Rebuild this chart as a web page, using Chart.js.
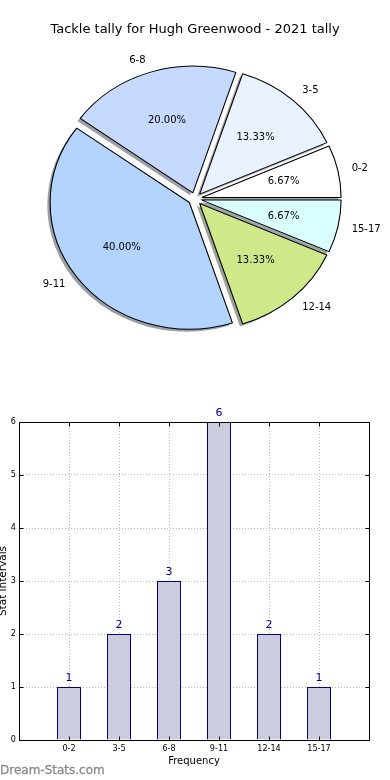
<!DOCTYPE html>
<html>
<head>
<meta charset="utf-8">
<script src="https://cdn.jsdelivr.net/npm/chart.js@4.4.0/dist/chart.umd.min.js"></script>
<style>
body{margin:0;background:#fff;width:390px;height:780px;position:relative;overflow:hidden;font-family:'DejaVu Sans',sans-serif}
#pizza{position:absolute;left:0;top:0}
#barras{position:absolute;left:0;top:400px}
#marca{position:absolute;left:0;top:762px;font-size:12px;line-height:16px;color:#8a8a8a;font-weight:500;-webkit-text-stroke:0.3px #8a8a8a}
</style>
</head>
<body>
<canvas id="pizza" width="390" height="360"></canvas>
<canvas id="barras" width="390" height="380"></canvas>
<div id="marca">Dream-Stats.com</div>
<script>
let titulo='Tackle tally for Hugh Greenwood - 2021 tally'
let faixas=['0-2','3-5','6-8','9-11','12-14','15-17']
let contagens=[1,2,3,6,2,1]
let coresPizza=['#ffffff','#eaf2ff','#c6d9ff','#b3d4ff','#cfe88a','#d9ffff']
let ticksY=[0,1,2,3,4,5,6]

let RAIO=126.6
let EXPLODE=0.05
let ESTICA=1.1
let SOMBRA=0.02
let FONTE_TICK='"DejaVu Sans Condensed", "DejaVu Sans"'

// matplotlib vai anti-horario a partir do leste, chart.js vai horario
let faixasPizza=faixas.slice().reverse()
let valoresPizza=contagens.slice().reverse()
let coresInvertidas=coresPizza.slice().reverse()
let total=contagens.reduce((a,b)=>a+b,0)

function corSombra(hex){
let r=parseInt(hex.slice(1,3),16)
let g=parseInt(hex.slice(3,5),16)
let b=parseInt(hex.slice(5,7),16)
return `rgba(${Math.round(r*.3)},${Math.round(g*.3)},${Math.round(b*.3)},0.5)`
}

let pluginPizza={
id:'pizzaElipse',
beforeDatasetsDraw(chart){
let ctx=chart.ctx
let arcos=chart.getDatasetMeta(0).data
// explode feito a mao pra nao mexer no raio de cada fatia
arcos.forEach(arco=>{
if(arco._explodido)return
arco._explodido=true
let desenhar=arco.draw.bind(arco)
arco.draw=function(c){
let meio=(this.startAngle+this.endAngle)/2
let d=EXPLODE*this.outerRadius
c.save()
c.translate(Math.cos(meio)*d,Math.sin(meio)*d)
desenhar(c)
c.restore()
}
})
let cx=arcos[0].x
let cy=arcos[0].y
ctx.save()
ctx.translate(cx,cy)
ctx.scale(ESTICA,1)
ctx.translate(-cx,-cy)
arcos.forEach((arco,i)=>{
let p=arco.getProps(['x','y','startAngle','endAngle','outerRadius'])
let meio=(p.startAngle+p.endAngle)/2
let d=EXPLODE*p.outerRadius
let ox=p.x+Math.cos(meio)*d-SOMBRA*p.outerRadius
let oy=p.y+Math.sin(meio)*d+SOMBRA*p.outerRadius
ctx.beginPath()
ctx.moveTo(ox,oy)
ctx.arc(ox,oy,p.outerRadius,p.startAngle,p.endAngle)
ctx.closePath()
ctx.fillStyle=corSombra(coresInvertidas[i])
ctx.fill()
})
},
afterDatasetsDraw(chart){
let ctx=chart.ctx
ctx.restore()
let arcos=chart.getDatasetMeta(0).data
ctx.save()
ctx.font='10px "DejaVu Sans"'
ctx.fillStyle='#000'
ctx.textBaseline='middle'
arcos.forEach((arco,i)=>{
let p=arco.getProps(['x','y','startAngle','endAngle','outerRadius'])
let meio=(p.startAngle+p.endAngle)/2
let r=p.outerRadius
let d=EXPLODE*r
let c=Math.cos(meio)
let s=Math.sin(meio)
ctx.textAlign=c>0?'left':'right'
ctx.fillText(faixasPizza[i],p.x+ESTICA*(1.1*r+d)*c,p.y+(1.1*r+d)*s)
ctx.textAlign='center'
let pct=(valoresPizza[i]/total*100).toFixed(2)+'%'
ctx.fillText(pct,p.x+ESTICA*(0.6*r+d)*c,p.y+(0.6*r+d)*s)
})
ctx.restore()
}
}

new Chart(document.getElementById('pizza'),{
type:'pie',
data:{
labels:faixasPizza,
datasets:[{
data:valoresPizza,
backgroundColor:coresInvertidas,
borderColor:'#000',
borderWidth:1
}]
},
options:{
responsive:false,
animation:false,
events:[],
rotation:90,
radius:RAIO,
plugins:{
legend:{display:false},
tooltip:{enabled:false},
title:{
display:true,
text:titulo,
color:'#000',
font:{family:'DejaVu Sans',size:13,weight:'normal',lineHeight:1.2},
padding:{top:22,bottom:0}
}
}
},
plugins:[pluginPizza]
})

let pluginMoldura={
id:'moldura',
afterDatasetsDraw(chart){
let ctx=chart.ctx
let a=chart.chartArea
let sx=chart.scales.x
let sy=chart.scales.y
let esq=Math.round(a.left)+0.5
let dir=Math.round(a.right)+0.5
let topo=Math.round(a.top)+0.5
let base=Math.round(a.bottom)+0.5
ctx.save()
ctx.strokeStyle='#000'
ctx.lineWidth=1
ctx.beginPath()
faixas.forEach((f,i)=>{
let x=Math.round(sx.getPixelForValue(i))+0.5
ctx.moveTo(x,base);ctx.lineTo(x,base-4)
ctx.moveTo(x,topo);ctx.lineTo(x,topo+4)
})
ticksY.forEach(v=>{
let y=Math.round(sy.getPixelForValue(v))+0.5
ctx.moveTo(esq,y);ctx.lineTo(esq+4,y)
ctx.moveTo(dir,y);ctx.lineTo(dir-4,y)
})
ctx.stroke()
ctx.strokeRect(esq,topo,dir-esq,base-topo)
// valores em cima das barras
ctx.fillStyle='#00008b'
ctx.font='11px "DejaVu Sans"'
ctx.textAlign='center'
ctx.textBaseline='middle'
chart.getDatasetMeta(0).data.forEach((barra,i)=>{
ctx.fillText(String(contagens[i]),barra.x,barra.y-9)
})
ctx.restore()
}
}

new Chart(document.getElementById('barras'),{
type:'bar',
data:{
datasets:[{
data:faixas.map((f,i)=>({x:i,y:contagens[i]})),
backgroundColor:'#ccccdf',
borderColor:'#000080',
borderWidth:1,
categoryPercentage:0.48,
barPercentage:1
}]
},
options:{
responsive:false,
animation:false,
events:[],
layout:{padding:{top:22,right:21,left:0,bottom:0}},
plugins:{
legend:{display:false},
tooltip:{enabled:false}
},
scales:{
x:{
type:'linear',
min:-1,
max:6,
offset:false,
afterFit(s){s.height=40},
ticks:{
stepSize:1,
autoSkip:false,
maxRotation:0,
padding:3,
color:'#000',
font:{family:FONTE_TICK,size:9},
callback:v=>faixas[v]||''
},
grid:{color:'#b8b8b8',drawTicks:false,offset:false},
border:{color:'#000',dash:[1,2]},
title:{
display:true,
text:'Frequency',
color:'#000',
font:{family:'DejaVu Sans',size:10,lineHeight:1.2},
padding:{top:0,bottom:13}
}
},
y:{
min:0,
max:6,
afterFit(s){s.width=19},
ticks:{
stepSize:1,
padding:3,
color:'#000',
font:{family:FONTE_TICK,size:9}
},
grid:{color:'#b8b8b8',drawTicks:false},
border:{color:'#000',dash:[1,2]},
title:{
display:true,
text:'Stat intervals',
color:'#000',
font:{family:'DejaVu Sans',size:10.5,lineHeight:0.55},
padding:{top:0,bottom:0}
}
}
}
},
plugins:[pluginMoldura]
})
</script>
</body>
</html>
